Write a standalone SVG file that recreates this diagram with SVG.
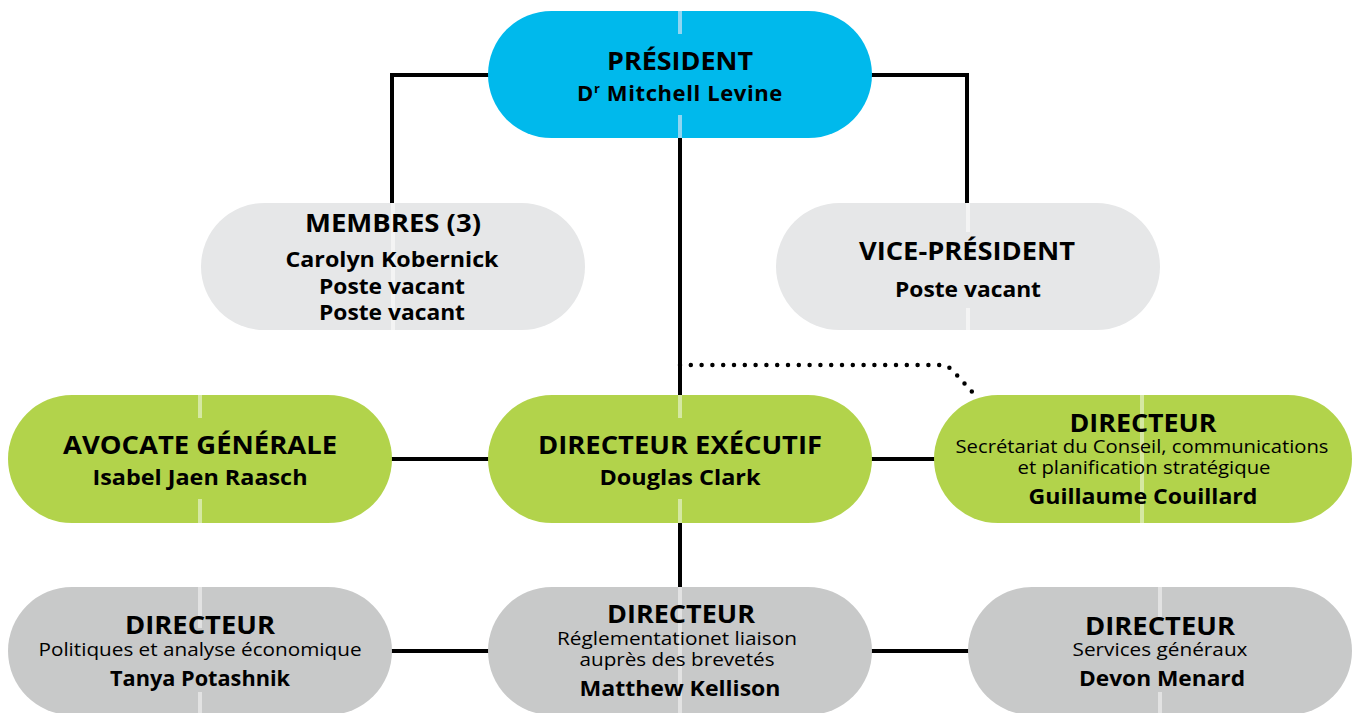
<svg xmlns="http://www.w3.org/2000/svg" width="1353" height="713" viewBox="0 0 1353 713">
<style>
.conn{stroke:#000;stroke-width:4;fill:none}
.dot{stroke:#000;stroke-width:4.5;fill:none;stroke-linecap:round;stroke-dasharray:0 10.8}
.blue{fill:#00B9EC}.green{fill:#B2D34B}.lgray{fill:#E6E7E8}.gray{fill:#C8C9C9}
.lb{stroke:#8FD6F2;stroke-width:4}.lgr{stroke:#D5E8A2;stroke-width:4}.llg{stroke:#F4F4F4;stroke-width:4}.lg{stroke:#E2E2E2;stroke-width:4}
text{font-family:"Open Sans",Lato,"Liberation Sans",sans-serif;text-anchor:middle;fill:#000}
.t{font-size:25px;font-weight:700}
.n{font-size:22px;font-weight:700}
.s{font-size:18.5px;font-weight:400}
</style>
<g id="connectors">
<path class="conn" d="M490,75 H392 V205"/>
<path class="conn" d="M870,75 H967 V205"/>
<path class="conn" d="M680,136 V397"/>
<path class="conn" d="M680,521 V589"/>
<path class="conn" d="M390,459 H490"/>
<path class="conn" d="M870,459 H937"/>
<path class="conn" d="M390,651 H490"/>
<path class="conn" d="M870,651 H970"/>
<path class="dot" d="M680,365 H940 Q948,365 954,372 L976,396"/>
</g>
<g id="president">
<rect class="blue" x="488" y="11" width="384" height="127" rx="63.5"/>
<line class="lb" x1="680" y1="11" x2="680" y2="34"/><line class="lb" x1="680" y1="115" x2="680" y2="138"/>
<text class="t" x="680" y="70" textLength="146" lengthAdjust="spacingAndGlyphs">PRÉSIDENT</text>
<text class="n" x="680" y="101" letter-spacing="0.6">D<tspan font-size="13" dy="-8">r</tspan><tspan dy="8"> Mitchell Levine</tspan></text>
</g>
<g id="membres">
<rect class="lgray" x="201" y="203" width="384" height="127" rx="63.5"/>
<line class="llg" x1="393" y1="203" x2="393" y2="330"/>
<text class="t" x="393" y="232" textLength="176" lengthAdjust="spacingAndGlyphs">MEMBRES (3)</text>
<text class="n" x="392" y="267" textLength="213" lengthAdjust="spacingAndGlyphs">Carolyn Kobernick</text>
<text class="n" x="392" y="294" textLength="146" lengthAdjust="spacingAndGlyphs">Poste vacant</text>
<text class="n" x="392" y="320" textLength="146" lengthAdjust="spacingAndGlyphs">Poste vacant</text>
</g>
<g id="vice-president">
<rect class="lgray" x="776" y="203" width="384" height="127" rx="63.5"/>
<line class="llg" x1="968" y1="203" x2="968" y2="232"/><line class="llg" x1="968" y1="308" x2="968" y2="330"/>
<text class="t" x="967" y="260" textLength="216" lengthAdjust="spacingAndGlyphs">VICE-PRÉSIDENT</text>
<text class="n" x="968" y="297" textLength="146" lengthAdjust="spacingAndGlyphs">Poste vacant</text>
</g>
<g id="avocate">
<rect class="green" x="8" y="395" width="384" height="128" rx="64"/>
<line class="lgr" x1="200" y1="395" x2="200" y2="418"/><line class="lgr" x1="200" y1="499" x2="200" y2="523"/>
<text class="t" x="200" y="454" textLength="274" lengthAdjust="spacingAndGlyphs">AVOCATE GÉNÉRALE</text>
<text class="n" x="200" y="485" textLength="215" lengthAdjust="spacingAndGlyphs">Isabel Jaen Raasch</text>
</g>
<g id="directeur-executif">
<rect class="green" x="488" y="395" width="384" height="128" rx="64"/>
<line class="lgr" x1="680" y1="395" x2="680" y2="418"/><line class="lgr" x1="680" y1="499" x2="680" y2="523"/>
<text class="t" x="680" y="454" textLength="284" lengthAdjust="spacingAndGlyphs">DIRECTEUR EXÉCUTIF</text>
<text class="n" x="680" y="485" textLength="161" lengthAdjust="spacingAndGlyphs">Douglas Clark</text>
</g>
<g id="directeur-secretariat">
<rect class="green" x="934" y="395" width="418" height="128" rx="64"/>
<line class="lgr" x1="1142" y1="395" x2="1142" y2="523"/>
<text class="t" x="1143" y="432" textLength="147" lengthAdjust="spacingAndGlyphs">DIRECTEUR</text>
<text class="s" x="1142" y="453" textLength="373" lengthAdjust="spacingAndGlyphs">Secrétariat du Conseil, communications</text>
<text class="s" x="1144" y="474" textLength="253" lengthAdjust="spacingAndGlyphs">et planification stratégique</text>
<text class="n" x="1143" y="504" textLength="229" lengthAdjust="spacingAndGlyphs">Guillaume Couillard</text>
</g>
<g id="directeur-politiques">
<rect class="gray" x="8" y="587" width="384" height="128" rx="64"/>
<line class="lg" x1="200" y1="587" x2="200" y2="628"/><line class="lg" x1="200" y1="692" x2="200" y2="713"/>
<text class="t" x="200" y="634" textLength="150" lengthAdjust="spacingAndGlyphs">DIRECTEUR</text>
<text class="s" x="200" y="656" textLength="323" lengthAdjust="spacingAndGlyphs">Politiques et analyse économique</text>
<text class="n" x="200" y="686" textLength="180" lengthAdjust="spacingAndGlyphs">Tanya Potashnik</text>
</g>
<g id="directeur-reglementation">
<rect class="gray" x="488" y="587" width="384" height="128" rx="64"/>
<line class="lg" x1="680" y1="587" x2="680" y2="713"/>
<text class="t" x="681" y="623" textLength="148" lengthAdjust="spacingAndGlyphs">DIRECTEUR</text>
<text class="s" x="677" y="645" textLength="240" lengthAdjust="spacingAndGlyphs">Réglementationet liaison</text>
<text class="s" x="677" y="666" textLength="195" lengthAdjust="spacingAndGlyphs">auprès des brevetés</text>
<text class="n" x="680" y="696" textLength="201" lengthAdjust="spacingAndGlyphs">Matthew Kellison</text>
</g>
<g id="directeur-services">
<rect class="gray" x="968" y="587" width="384" height="128" rx="64"/>
<line class="lg" x1="1160" y1="587" x2="1160" y2="617"/><line class="lg" x1="1160" y1="692" x2="1160" y2="713"/>
<text class="t" x="1160" y="635" textLength="150" lengthAdjust="spacingAndGlyphs">DIRECTEUR</text>
<text class="s" x="1160" y="656" textLength="175" lengthAdjust="spacingAndGlyphs">Services généraux</text>
<text class="n" x="1162" y="686" textLength="166" lengthAdjust="spacingAndGlyphs">Devon Menard</text>
</g>
</svg>
